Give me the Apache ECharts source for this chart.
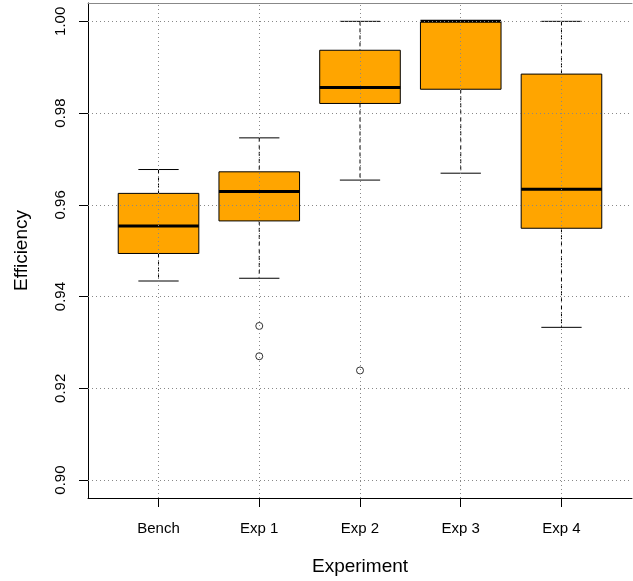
<!DOCTYPE html>
<html><head><meta charset="utf-8">
<script src="https://cdn.jsdelivr.net/npm/echarts@6/dist/echarts.min.js"></script>
<style>html,body{margin:0;padding:0;background:#fff}#c{width:633px;height:581px}</style>
</head><body><div id="c"></div>
<script>
const categories = ['Bench', 'Exp 1', 'Exp 2', 'Exp 3', 'Exp 4'];
const lowerWhisker = [0.9434, 0.9440, 0.9654, 0.9669, 0.9333];
const q1 = [0.9494, 0.9565, 0.9821, 0.9852, 0.9549];
const median = [0.9554, 0.9629, 0.9856, 1.0000, 0.9634];
const q3 = [0.9625, 0.9672, 0.9937, 1.0000, 0.9885];
const upperWhisker = [0.9677, 0.9746, 1.0000, 1.0000, 1.0000];
const outlierCategory = ['Exp 1', 'Exp 1', 'Exp 2'];
const outlierValue = [0.9336, 0.9270, 0.9239];
const yTicks = [0.90, 0.92, 0.94, 0.96, 0.98, 1.00];

const FONT = 'Liberation Sans, Arial, sans-serif';
const catPos = categories.map((c, i) => i + 1);
const boxData = categories.map((c, i) => [i + 1, lowerWhisker[i], q1[i], median[i], q3[i], upperWhisker[i]]);
const outData = outlierCategory.map((c, i) => [categories.indexOf(c) + 1, outlierValue[i]]);

const BOX_HALF = 0.4, CAP_HALF = 0.2;

function renderBox(params, api) {
  const x = api.value(0);
  const lo = api.value(1), a = api.value(2), m = api.value(3), b = api.value(4), hi = api.value(5);
  const pL = api.coord([x - BOX_HALF, b]);
  const pR = api.coord([x + BOX_HALF, a]);
  const cx = api.coord([x, m])[0];
  const capL = api.coord([x - CAP_HALF, lo])[0];
  const capR = api.coord([x + CAP_HALF, lo])[0];
  const yLo = api.coord([x, lo])[1], yHi = api.coord([x, hi])[1];
  const yA = api.coord([x, a])[1], yB = api.coord([x, b])[1], yM = api.coord([x, m])[1];
  const dash = { stroke: '#000', lineWidth: 1, lineDash: [4, 3] };
  const solid = { stroke: '#000', lineWidth: 1 };
  return {
    type: 'group',
    children: [
      { type: 'line', shape: { x1: cx, y1: yHi, x2: cx, y2: yB }, style: dash },
      { type: 'line', shape: { x1: cx, y1: yA, x2: cx, y2: yLo }, style: dash },
      { type: 'line', shape: { x1: capL, y1: yHi, x2: capR, y2: yHi }, style: solid },
      { type: 'line', shape: { x1: capL, y1: yLo, x2: capR, y2: yLo }, style: solid },
      { type: 'rect', shape: { x: pL[0], y: yB, width: pR[0] - pL[0], height: yA - yB },
        style: { fill: '#FFA500', stroke: '#000', lineWidth: 1 } },
      { type: 'line', shape: { x1: pL[0], y1: yM, x2: pR[0], y2: yM }, style: { stroke: '#000', lineWidth: 3 } }
    ]
  };
}

const chart = echarts.init(document.getElementById('c'), null, { renderer: 'canvas' });
chart.setOption({
  animation: false,
  backgroundColor: '#fff',
  grid: { left: 88, right: 1, top: 3, bottom: 83 },
  xAxis: [{
    type: 'value', min: 0.3, max: 5.7,
    name: 'Experiment', nameLocation: 'middle', nameGap: 59,
    nameTextStyle: { fontFamily: FONT, fontSize: 19, color: '#000' },
    axisLine: { show: true, onZero: false, lineStyle: { color: '#000', width: 1 } },
    axisTick: { show: true, length: 9, customValues: catPos, lineStyle: { color: '#000' } },
    axisLabel: { show: true, customValues: catPos, margin: 23, fontFamily: FONT, fontSize: 15, color: '#000',
      formatter: v => categories[Math.round(v) - 1] || '' },
    splitLine: { show: false }
  }, {
    type: 'value', min: 0.3, max: 5.7, position: 'top',
    axisLine: { show: true, onZero: false, lineStyle: { color: '#888', width: 1 } },
    axisTick: { show: false }, axisLabel: { show: false }, splitLine: { show: false }
  }],
  yAxis: {
    type: 'value', min: 0.8961, max: 1.004,
    name: 'Efficiency', nameLocation: 'middle', nameGap: 57, nameRotate: 90,
    nameTextStyle: { fontFamily: FONT, fontSize: 19, color: '#000' },
    axisLine: { show: true, onZero: false, lineStyle: { color: '#000', width: 1 } },
    axisTick: { show: true, length: 9, customValues: yTicks, lineStyle: { color: '#000' } },
    axisLabel: { show: true, customValues: yTicks, rotate: 90, margin: 20, fontFamily: FONT, fontSize: 15, color: '#000',
      formatter: v => v.toFixed(2) },
    splitLine: { show: false }
  },
  series: [{
    type: 'line', data: [], silent: true,
    markLine: {
      silent: true, symbol: 'none', label: { show: false },
      lineStyle: { color: '#888', type: [1, 3], width: 1 },
      data: yTicks.map(v => ({ yAxis: v })).concat(catPos.map(v => ({ xAxis: v })))
    }
  }, {
    type: 'custom', renderItem: renderBox, data: boxData, encode: { x: 0, y: [1, 2, 3, 4, 5] }, z: 3
  }, {
    type: 'scatter', data: outData, symbol: 'circle', symbolSize: 7, z: 4,
    itemStyle: { color: 'transparent', borderColor: '#000', borderWidth: 1 }
  }]
});
</script></body></html>
